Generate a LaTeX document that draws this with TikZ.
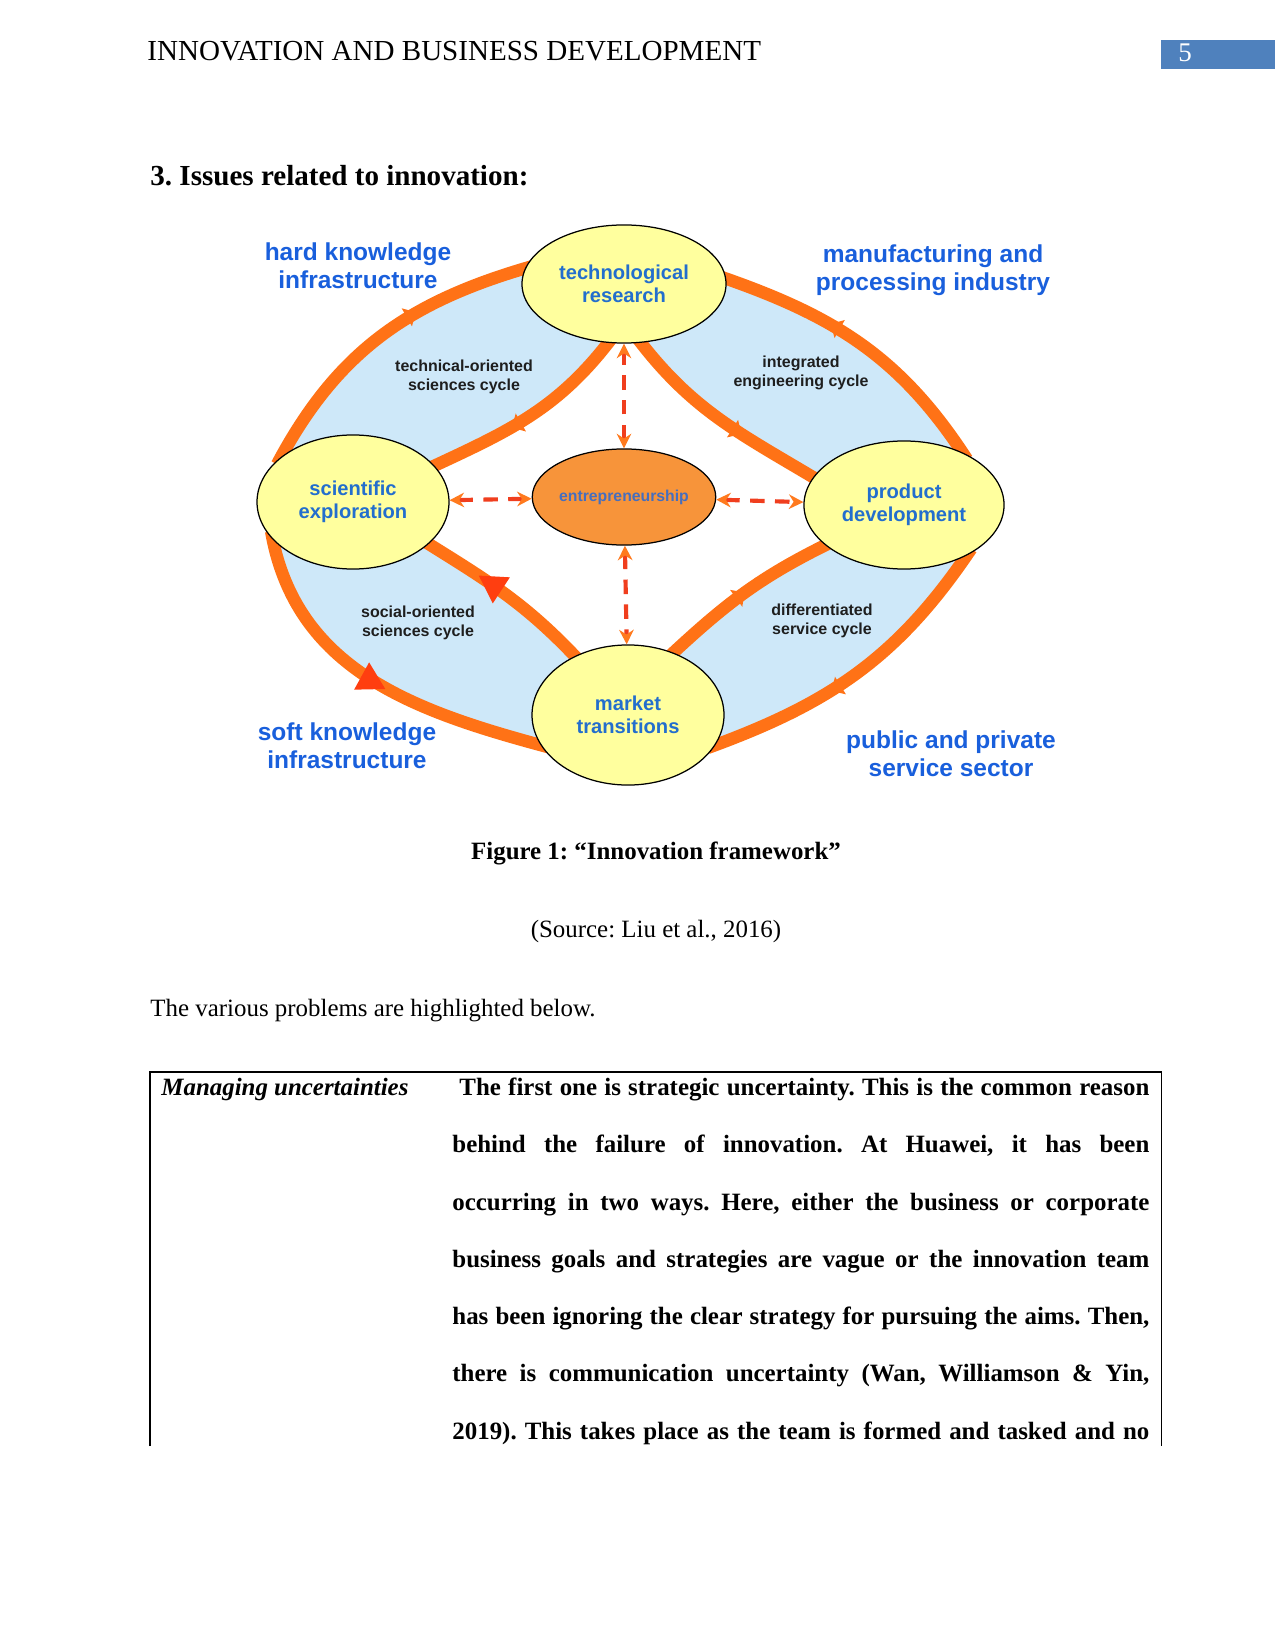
\documentclass[tikz,border=0pt]{standalone}
\usepackage{fontspec}
\setmainfont{Liberation Serif}
\newfontfamily\figsans{Liberation Sans}
\usetikzlibrary{shapes.geometric,arrows.meta,decorations.markings,backgrounds}
\frenchspacing

\definecolor{flowline}{RGB}{255,114,22}
\definecolor{socialred}{RGB}{255,62,16}
\definecolor{skyfill}{RGB}{206,232,249}
\definecolor{stagefill}{RGB}{255,255,158}
\definecolor{entfill}{RGB}{247,148,58}
\definecolor{stageblue}{RGB}{35,110,205}
\definecolor{cornerblue}{RGB}{25,95,220}
\definecolor{entblue}{RGB}{70,110,190}
\definecolor{cycletext}{RGB}{30,30,30}
\definecolor{dashred}{RGB}{240,62,30}
\definecolor{tiporange}{RGB}{255,122,30}
\definecolor{pageblue}{RGB}{79,129,189}

\newcommand{\tabrow}[1]{\makebox[335.8pt][s]{#1}}

\begin{document}
\begin{tikzpicture}[x=0.4818pt, y=-0.4818pt,
    stage/.style={draw, ellipse, line width=0.6pt, fill=stagefill, inner sep=0pt, align=center, text=stageblue, font=\figsans\bfseries\fontsize{9.7}{11}\selectfont},
    cornerlabel/.style={align=center, inner sep=0pt, text=cornerblue, font=\figsans\bfseries\fontsize{11.8}{13.6}\selectfont},
    cyclelabel/.style={align=center, inner sep=0pt, text=cycletext, font=\figsans\bfseries\fontsize{7.7}{9.1}\selectfont},
    cycleflow/.style={draw=flowline, line width=6pt, shorten <=-4pt, shorten >=-4pt, postaction={decorate},
        decoration={markings, mark=at position #1 with {\arrow{Triangle[length=5pt, width=10pt, line width=0pt, color=flowline]}}}},
    socialflow/.style={draw=flowline, line width=6pt, shorten <=-4pt, shorten >=-4pt, postaction={decorate},
        decoration={markings, mark=at position #1 with {\arrow{Triangle[length=13pt, width=15pt, line width=0pt, color=socialred]}}}},
    entlink/.style={draw=dashred, line width=2pt, dash pattern=on 7pt off 5pt,
        {Stealth[length=7pt, width=7pt, color=tiporange]}-{Stealth[length=7pt, width=7pt, color=tiporange]}},
    tableline/.style={anchor=base west, inner sep=0pt, font=\bfseries\fontsize{12}{14}\selectfont},
    pagetext/.style={inner sep=0pt, font=\fontsize{12}{14}\selectfont}]
\useasboundingbox (0,0) rectangle (1275,1650);

    % Page header
    \node[anchor=base west, inner sep=0pt, font=\fontsize{14}{17}\selectfont] (header) at (147,61) {INNOVATION AND BUSINESS DEVELOPMENT};
    \fill[pageblue] (1161,40) rectangle (1275,69);
    \node[anchor=base west, inner sep=0pt, text=white, font=\fontsize{13}{15}\selectfont] (pagenum) at (1178,62) {5};

    % Section heading
    \node[anchor=base west, inner sep=0pt, font=\bfseries\fontsize{14}{17}\selectfont] (heading) at (150,186) {3. Issues related to innovation:};

    % Stages
    \node[stage, minimum width=98.3pt, minimum height=56.9pt] (tech) at (624,284) {technological\\research};
    \node[stage, minimum width=92.5pt, minimum height=64.6pt] (sci) at (353,502) {scientific\\exploration};
    \node[stage, minimum width=96.4pt, minimum height=61.7pt] (prod) at (904,505) {product\\development};
    \node[stage, minimum width=92.5pt, minimum height=67.5pt] (market) at (628,715) {market\\transitions};

    % Entrepreneurship
    \node[draw, ellipse, line width=0.6pt, fill=entfill, inner sep=0pt, minimum width=79pt, minimum height=46.3pt, text=entblue, font=\figsans\bfseries\fontsize{7.6}{9}\selectfont] (ent) at (624,497) {entrepreneurship};

    % Sector labels
    \node[cornerlabel] (hard) at (358,266) {hard knowledge\\infrastructure};
    \node[cornerlabel] (manuf) at (933,270) {manufacturing and\\processing industry};
    \node[cornerlabel] (soft) at (347,746) {soft knowledge\\infrastructure};
    \node[cornerlabel] (public) at (951,754) {public and private\\service sector};

    % Cycle labels
    \node[cyclelabel] (techcycle) at (464,377) {technical-oriented\\sciences cycle};
    \node[cyclelabel] (engcycle) at (801,373) {integrated\\engineering cycle};
    \node[cyclelabel] (socialcycle) at (418,623) {social-oriented\\sciences cycle};
    \node[cyclelabel] (servcycle) at (822,621) {differentiated\\service cycle};

    % Cycles
    \begin{scope}[on background layer]
        \fill[skyfill] (sci.148) to[out=62,in=196] (tech.171) -- (tech.3) to[out=-19,in=123] (prod.42) -- (prod.321) to[out=236,in=20] (market.341) -- (market.199) to[out=165,in=-80] (sci.205) -- cycle;
        \fill[white] (tech.255) to[out=233,in=25] (sci.24) -- (sci.331) to[out=-32,in=133] (market.132) -- (market.54) to[out=43,in=206] (prod.207) -- (prod.163) to[out=149,in=-53] (tech.286) -- cycle;
        \draw[cycleflow=0.63] (sci.148) to[out=62,in=196] (tech.171);
        \draw[cycleflow=0.6] (tech.255) to[out=233,in=25] (sci.24);
        \draw[cycleflow=0.62] (prod.42) to[out=123,in=-19] (tech.3);
        \draw[cycleflow=0.62] (tech.286) to[out=-53,in=149] (prod.163);
        \draw[cycleflow=0.6] (prod.321) to[out=236,in=20] (market.341);
        \draw[cycleflow=0.5] (market.54) to[out=43,in=206] (prod.207);
        \draw[socialflow=0.54] (sci.205) to[out=-80,in=165] (market.199);
        \draw[socialflow=0.68] (market.132) to[out=133,in=-32] (sci.331);
    \end{scope}

    % Entrepreneurship links
    \draw[entlink] (ent) -- (tech);
    \draw[entlink] (ent) -- (sci);
    \draw[entlink] (ent) -- (prod);
    \draw[entlink] (ent) -- (market);

    % Caption
    \node[pagetext, anchor=base, font=\bfseries\fontsize{12}{14}\selectfont] (caption) at (656,859) {Figure 1: “Innovation framework”};
    \node[pagetext, anchor=base] (source) at (656,937) {(Source: Liu et al., 2016)};
    \node[pagetext, anchor=base west] (intro) at (150,1016) {The various problems are highlighted below.};

    % Table
    \draw[line width=0.5pt] (150,1446) -- (150,1072) -- (1161,1072) -- (1161,1446);
    \node[pagetext, anchor=base west, font=\bfseries\itshape\fontsize{12}{14}\selectfont] (rowhead) at (161,1095) {Managing uncertainties};
    \node[tableline] (line1) at (452,1095) {\tabrow{\hspace*{3.4pt}The first one is strategic uncertainty. This is the common reason}};
    \node[tableline] (line2) at (452,1152) {\tabrow{behind the failure of innovation. At Huawei, it has been}};
    \node[tableline] (line3) at (452,1210) {\tabrow{occurring in two ways. Here, either the business or corporate}};
    \node[tableline] (line4) at (452,1267) {\tabrow{business goals and strategies are vague or the innovation team}};
    \node[tableline] (line5) at (452,1324) {\tabrow{has been ignoring the clear strategy for pursuing the aims. Then,}};
    \node[tableline] (line6) at (452,1381) {\tabrow{there is communication uncertainty (Wan, Williamson \& Yin,}};
    \node[tableline] (line7) at (452,1439) {\tabrow{2019). This takes place as the team is formed and tasked and no}};
\end{tikzpicture}
\end{document}
